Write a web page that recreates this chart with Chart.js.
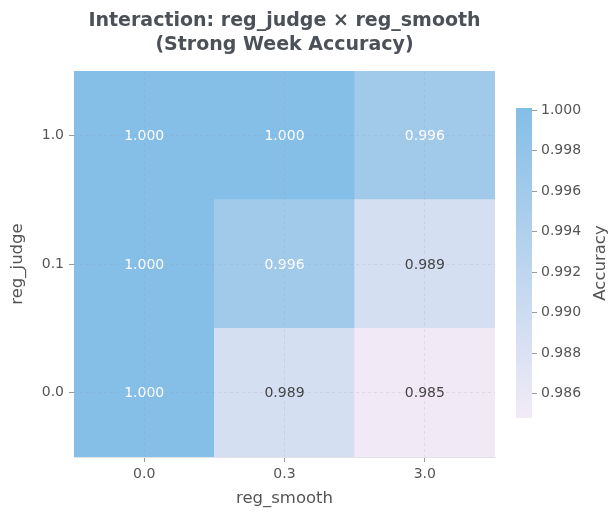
<!DOCTYPE html>
<html>
<head>
<meta charset="utf-8">
<script src="https://cdn.jsdelivr.net/npm/chart.js@4"></script>
<style>
  body { margin: 0; background: #fff; }
  #wrap { position: relative; width: 610px; height: 515px; }
  #heat { position: absolute; left: 0; top: 0; }
  #bar { position: absolute; left: 500px; top: 0; }
</style>
</head>
<body>
<div id="wrap">
  <canvas id="heat" width="610" height="515"></canvas>
  <canvas id="bar" width="110" height="515"></canvas>
</div>
<script>
const smoothLabels = ['0.0', '0.3', '3.0'];
const judgeLabels = ['0.0', '0.1', '1.0'];
// one row per reg_judge value, columns follow smoothLabels
const accJudge00 = [1.000, 0.989, 0.985];
const accJudge01 = [1.000, 0.996, 0.989];
const accJudge10 = [1.000, 1.000, 0.996];
const colorTicks = [0.986, 0.988, 0.990, 0.992, 0.994, 0.996, 0.998, 1.000];
const colorMin = 0.9848;
const colorMax = 1.0001;

const titleLines = ['Interaction: reg_judge \u00d7 reg_smooth', '(Strong Week Accuracy)'];
const textColor = '#555555';
const gridColor = 'rgba(150, 150, 175, 0.2)';
const lowRgb = [242, 235, 246];
const highRgb = [132, 190, 230];

Chart.defaults.font.family = '"DejaVu Sans", sans-serif';

function norm(v) {
    return Math.max(0, Math.min(1, (v - colorMin) / (colorMax - colorMin)));
}

function cmap(v) {
    const t = norm(v);
    const c = lowRgb.map((l, i) => Math.round(l + (highRgb[i] - l) * t));
    return `rgb(${c.join(',')})`;
}

// value text in the middle of each cell
const cellText = {
    id: 'cellText',
    afterDatasetsDraw(chart) {
        const ctx = chart.ctx;
        ctx.save();
        ctx.font = '14px "DejaVu Sans"';
        ctx.textAlign = 'center';
        ctx.textBaseline = 'middle';
        chart.data.datasets.forEach((ds, j) => {
            chart.getDatasetMeta(j).data.forEach((bar, i) => {
                const v = ds.values[i];
                ctx.fillStyle = norm(v) > 0.5 ? '#ffffff' : '#444444';
                ctx.fillText(v.toFixed(3), bar.x, (bar.y + bar.base) / 2 + 1);
            });
        });
        ctx.restore();
    }
};

// two-line title centred over the plot area
const plotTitle = {
    id: 'plotTitle',
    afterDraw(chart) {
        const ctx = chart.ctx;
        const cx = (chart.chartArea.left + chart.chartArea.right) / 2;
        ctx.save();
        ctx.font = 'bold 19px "DejaVu Sans"';
        ctx.fillStyle = '#4b5157';
        ctx.textAlign = 'center';
        ctx.textBaseline = 'middle';
        titleLines.forEach((line, k) => ctx.fillText(line, cx, 21 + k * 24));
        ctx.restore();
    }
};

const rows = [accJudge00, accJudge01, accJudge10];

new Chart(document.getElementById('heat'), {
    type: 'bar',
    data: {
        labels: smoothLabels,
        datasets: rows.map((vals, j) => ({
            label: 'reg_judge ' + judgeLabels[j],
            data: vals.map(() => [j - 0.5, j + 0.5]),
            values: vals,
            backgroundColor: vals.map(cmap),
            grouped: false,
            barPercentage: 1,
            categoryPercentage: 1,
            borderWidth: 0
        }))
    },
    options: {
        responsive: false,
        animation: false,
        layout: { padding: { top: 71, right: 115, left: 0, bottom: 0 } },
        plugins: { legend: { display: false }, tooltip: { enabled: false } },
        scales: {
            x: {
                type: 'category',
                offset: true,
                grid: { offset: false, color: gridColor, z: 1, tickColor: '#999', tickLength: 5 },
                border: { display: true, color: '#e2e2e2', dash: [3, 3], z: 1 },
                ticks: { color: textColor, font: { size: 14 }, padding: 4 },
                title: {
                    display: true, text: 'reg_smooth', color: textColor,
                    font: { size: 16.5 }, padding: { top: 0, bottom: 6 }
                },
                afterFit: s => { s.height = 58; }
            },
            y: {
                type: 'linear',
                min: -0.5,
                max: 2.5,
                afterBuildTicks: s => { s.ticks = judgeLabels.map((_, j) => ({ value: j })); },
                grid: { color: gridColor, z: 1, tickColor: '#999', tickLength: 5 },
                border: { display: false, dash: [3, 3], z: 1 },
                ticks: { color: textColor, font: { size: 14 }, padding: 5, callback: v => judgeLabels[v] },
                title: {
                    display: true, text: 'reg_judge', color: textColor,
                    font: { size: 16.5 }, padding: { top: 8, bottom: 0 }
                },
                afterFit: s => { s.width = 74; }
            }
        }
    },
    plugins: [cellText, plotTitle]
});

// colour bar
const barTitle = {
    id: 'barTitle',
    afterDraw(chart) {
        const ctx = chart.ctx;
        const a = chart.chartArea;
        ctx.save();
        ctx.translate(101, (a.top + a.bottom) / 2);
        ctx.rotate(-Math.PI / 2);
        ctx.font = '16.5px "DejaVu Sans"';
        ctx.fillStyle = textColor;
        ctx.textAlign = 'center';
        ctx.textBaseline = 'middle';
        ctx.fillText('Accuracy', 0, 0);
        ctx.restore();
    }
};

new Chart(document.getElementById('bar'), {
    type: 'bar',
    data: {
        labels: ['Accuracy'],
        datasets: [{
            data: [[colorMin, colorMax]],
            backgroundColor: c => {
                const a = c.chart.chartArea;
                if (!a) return cmap(colorMax);
                const g = c.chart.ctx.createLinearGradient(0, a.bottom, 0, a.top);
                g.addColorStop(0, cmap(colorMin));
                g.addColorStop(1, cmap(colorMax));
                return g;
            },
            barPercentage: 1,
            categoryPercentage: 1,
            borderWidth: 0
        }]
    },
    options: {
        responsive: false,
        animation: false,
        layout: { padding: { left: 16, top: 108, bottom: 97, right: 0 } },
        plugins: { legend: { display: false }, tooltip: { enabled: false } },
        scales: {
            x: { display: false },
            y: {
                position: 'right',
                min: colorMin,
                max: colorMax,
                afterBuildTicks: s => { s.ticks = colorTicks.map(v => ({ value: v })); },
                grid: { drawOnChartArea: false, tickColor: '#999', tickLength: 5 },
                border: { display: false },
                ticks: { color: textColor, font: { size: 14 }, padding: 4, callback: v => v.toFixed(3) },
                afterFit: s => { s.width = 78; }
            }
        }
    },
    plugins: [barTitle]
});
</script>
</body>
</html>
